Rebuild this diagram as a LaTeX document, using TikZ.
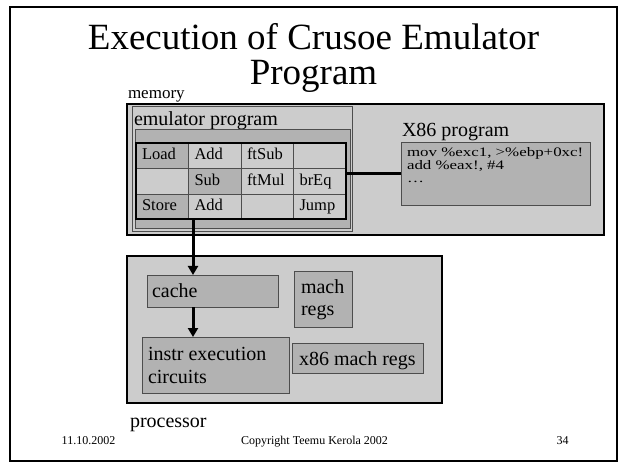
\documentclass[tikz,border=0pt]{standalone}
\usepackage{fontspec}
\setmainfont{Liberation Serif}
\usetikzlibrary{arrows.meta,calc}
\definecolor{lg}{HTML}{CCCCCC}
\definecolor{dg}{HTML}{B2B2B2}
\definecolor{ln}{HTML}{4D4D4D}
\begin{document}
\begin{tikzpicture}[x=1pt,y=-1pt,
  box/.style={rectangle, inner sep=0pt, outer sep=0pt, anchor=north west},
  bigbox/.style={box, draw=black, line width=2pt, fill=lg},
  subbox/.style={box, draw=ln, line width=0.8pt, fill=dg},
  lbl/.style={inner sep=0pt, outer sep=0pt, anchor=base west, font=\fontsize{20}{23}\selectfont},
  foot/.style={inner sep=0pt, outer sep=0pt, anchor=base, font=\fontsize{12}{14}\selectfont},
  code/.style={inner sep=0pt, outer sep=0pt, anchor=base west, font=\fontsize{13}{13}\selectfont},
  cell/.style={box, draw=ln, line width=0.8pt, fill=lg, minimum width=52.5pt, minimum height=25.5pt,
    text width=40.5pt, inner xsep=6pt, align=left, text height=11pt, text depth=3pt,
    font=\fontsize{16.5}{18}\selectfont},
  darkcell/.style={cell, fill=dg},
  arr/.style={line width=3pt, -{Triangle[length=9pt,width=10pt]}},
  conn/.style={line width=3pt}]
\useasboundingbox (0,0) rectangle (618,462);
% slide frame
\node[box, draw=black, line width=1.6pt, minimum width=607pt, minimum height=454pt] (frame) at (10,7) {};
% title
\node[inner sep=0pt, anchor=base, font=\fontsize{37}{40}\selectfont] (title1) at (313.5,50) {Execution of Crusoe Emulator};
\node[inner sep=0pt, anchor=base, font=\fontsize{37}{40}\selectfont] (title2) at (313.5,85) {Program};
% memory
\node[lbl, font=\fontsize{17}{20}\selectfont] (memlbl) at (128,99) {memory};
\node[bigbox, minimum width=477pt, minimum height=131pt] (memory) at (127,104) {};
\node[box, draw=ln, line width=0.8pt, fill=lg, minimum width=220pt, minimum height=125pt] (emul) at (132,106) {};
\node[lbl] (emullbl) at (134,126) {emulator program};
\node[subbox, minimum width=215pt, minimum height=99pt] (emuldark) at (135,129) {};
% table
\node[darkcell] (c11) at (136,143) {Load};
\node[cell] (c12) at (188.5,143) {Add};
\node[cell] (c13) at (241,143) {ftSub};
\node[cell] (c14) at (293.5,143) {};
\node[cell] (c21) at (136,168.5) {};
\node[darkcell] (c22) at (188.5,168.5) {Sub};
\node[cell] (c23) at (241,168.5) {ftMul};
\node[cell] (c24) at (293.5,168.5) {brEq};
\node[darkcell] (c31) at (136,194) {Store};
\node[cell] (c32) at (188.5,194) {Add};
\node[cell] (c33) at (241,194) {};
\node[cell] (c34) at (293.5,194) {Jump};
\node[box, draw=black, line width=2pt, minimum width=210pt, minimum height=76.5pt] (table) at (136,143) {};
% x86 program
\node[lbl] (x86lbl) at (402,137) {X86 program};
\node[subbox, minimum width=189pt, minimum height=63pt] (x86) at (401,142) {};
\node[code] (code1) at (407,157) {\scalebox{1.3}[1]{mov \%exc1, >\%ebp+0xc!}};
\node[code] (code2) at (407,170) {\scalebox{1.3}[1]{add \%eax!, \#4}};
\node[code] (code3) at (407,183) {\scalebox{1.3}[1]{…}};
\draw[conn] (x86.west) -- (x86.west -| table.east);
% processor
\node[bigbox, minimum width=315pt, minimum height=147pt] (proc) at (127,256) {};
\node[subbox, minimum width=131pt, minimum height=32pt] (cache) at (147,275) {};
\node[lbl] (cachelbl) at (152,298) {cache};
\node[subbox, minimum width=58pt, minimum height=56pt] (machregs) at (294,271) {};
\node[lbl] (mach1) at (301,293) {mach};
\node[lbl] (mach2) at (301,315) {regs};
\node[subbox, minimum width=147pt, minimum height=56pt] (instr) at (142,337) {};
\node[lbl] (instr1) at (148,360) {instr execution};
\node[lbl] (instr2) at (148,383) {circuits};
\node[subbox, minimum width=131pt, minimum height=30pt] (x86regs) at (292,343) {};
\node[lbl] (x86regslbl) at (299,365) {x86 mach regs};
\node[lbl] (proclbl) at (130,427) {processor};
% arrows
\draw[arr] ($(table.south west)+(57,0)$) -- ($(cache.north west)+(46,0)$);
\draw[arr] ($(cache.south west)+(46,0)$) -- ($(instr.north west)+(51,0)$);
% footer
\node[foot] (date) at (88.5,444) {11.10.2002};
\node[foot] (copy) at (314.5,444) {Copyright Teemu Kerola 2002};
\node[foot] (page) at (562.5,444) {34};
\end{tikzpicture}
\end{document}
